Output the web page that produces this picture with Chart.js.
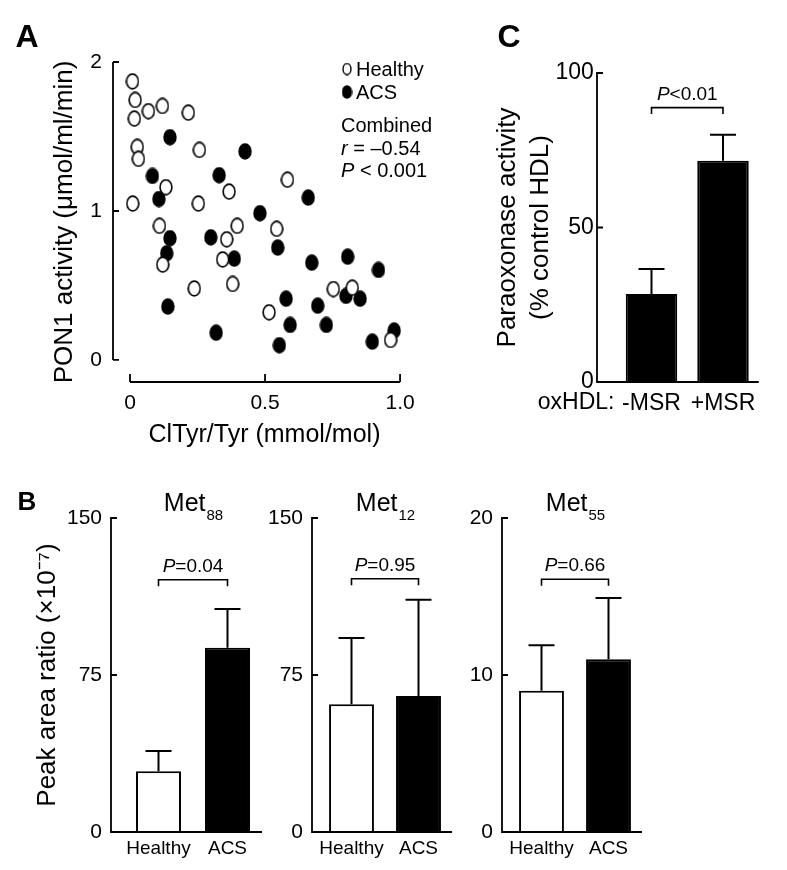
<!DOCTYPE html>
<html><head><meta charset="utf-8">
<script src="https://cdn.jsdelivr.net/npm/chart.js@4.4.1/dist/chart.umd.min.js"></script>
<style>
html,body{margin:0;padding:0;background:#fff;}
body{width:787px;height:870px;position:relative;overflow:hidden;}
canvas{position:absolute;}
</style></head><body>
<canvas id="cA" width="470" height="460" style="left:0;top:0"></canvas>
<canvas id="cC" width="317" height="430" style="left:470px;top:0"></canvas>
<canvas id="cB1" width="265" height="400" style="left:0;top:470px"></canvas>
<canvas id="cB2" width="200" height="400" style="left:262px;top:470px"></canvas>
<canvas id="cB3" width="200" height="400" style="left:462px;top:470px"></canvas>
<script>
// ---------------- DATA ----------------
// Panel A: PON1 activity vs ClTyr/Tyr
const healthyX = [0.009,0.019,0.068,0.12,0.216,0.016,0.027,0.031,0.257,0.133,0.367,0.583,0.01,0.253,0.109,0.397,0.543,0.358,0.343,0.121,0.238,0.38,0.515,0.753,0.823,0.965];
const healthyY = [1.87,1.745,1.67,1.705,1.66,1.62,1.43,1.35,1.41,1.16,1.13,1.21,1.05,1.05,0.90,0.90,0.88,0.81,0.675,0.64,0.48,0.51,0.32,0.476,0.485,0.134];
const acsX = [0.148,0.426,0.083,0.33,0.107,0.66,0.481,0.148,0.299,0.136,0.547,0.386,0.673,0.806,0.92,0.14,0.578,0.695,0.80,0.852,0.319,0.593,0.727,0.553,0.897,0.978];
const acsY = [1.495,1.40,1.235,1.24,1.08,1.09,0.985,0.817,0.823,0.716,0.754,0.68,0.653,0.693,0.604,0.358,0.411,0.364,0.43,0.411,0.183,0.235,0.235,0.099,0.123,0.197];
const scatterXTicks = [0, 0.5, 1.0];
const scatterXTickLabels = ['0', '0.5', '1.0'];
const scatterYTicks = [0, 1, 2];
const scatterYTickLabels = ['0', '1', '2'];

// Panel B: Met oxidation peak area ratios
const groups = ['Healthy', 'ACS'];
const met88Mean = [29, 88];
const met88Err = [9.7, 18.5];
const met12Mean = [61, 65];
const met12Err = [31.7, 46];
const met55Mean = [9.0, 11.0];
const met55Err = [2.9, 3.9];
const met88Ticks = [0, 75, 150];
const met12Ticks = [0, 75, 150];
const met55Ticks = [0, 10, 20];

// Panel C: paraoxonase activity
const oxCategories = ['-MSR', '+MSR'];
const oxMean = [28.5, 71.6];
const oxErr = [8.1, 8.4];
const oxTicks = [0, 50, 100];

// ---------------- HELPERS ----------------
const FONT = '"Liberation Sans", Arial, Helvetica, sans-serif';
Chart.defaults.font.family = FONT;
Chart.defaults.color = '#000';

function ellipseMarker(w, h, fill, lw) {
  const c = document.createElement('canvas');
  c.width = w; c.height = h;
  const g = c.getContext('2d');
  g.beginPath();
  g.ellipse(w / 2, h / 2, w / 2 - lw / 2 - 0.3, h / 2 - lw / 2 - 0.3, 0, 0, Math.PI * 2);
  g.fillStyle = fill; g.fill();
  g.lineWidth = lw; g.strokeStyle = '#000'; g.stroke();
  return c;
}
const openMark = ellipseMarker(14, 17, '#fff', 1.6);
const fillMark = ellipseMarker(14, 17, '#000', 1.6);
const openSmall = ellipseMarker(10, 13, '#fff', 1.4);
const fillSmall = ellipseMarker(11, 14, '#000', 1.4);

// draw text made of parts (some italic), aligned left/center/right at baseline y
function richText(ctx, parts, x, y, size, align) {
  const fonts = parts.map(p => (p.it ? 'italic ' : '') + size + 'px ' + FONT);
  let total = 0;
  const widths = parts.map((p, i) => { ctx.font = fonts[i]; const w = ctx.measureText(p.t).width; total += w; return w; });
  let cx = align === 'center' ? x - total / 2 : align === 'right' ? x - total : x;
  ctx.textAlign = 'left';
  parts.forEach((p, i) => { ctx.font = fonts[i]; ctx.fillText(p.t, cx, y); cx += widths[i]; });
}

function textPlugin(id, fn) { return { id, afterDraw(chart) { const ctx = chart.ctx; ctx.save(); ctx.fillStyle = '#000'; ctx.strokeStyle = '#000'; fn(chart, ctx); ctx.restore(); } }; }

function bracket(ctx, chart, val, pParts, size) {
  const { x, y } = chart.scales;
  const by = y.getPixelForValue(val);
  const x1 = x.getPixelForValue(0), x2 = x.getPixelForValue(1);
  ctx.lineWidth = 1.6;
  ctx.beginPath();
  ctx.moveTo(x1, by + 6.5); ctx.lineTo(x1, by); ctx.lineTo(x2, by); ctx.lineTo(x2, by + 6.5);
  ctx.stroke();
  ctx.textBaseline = 'alphabetic';
  richText(ctx, pParts, (x1 + x2) / 2, by - 8, size, 'center');
}

function errorBars(ctx, chart, means, errs) {
  const meta = chart.getDatasetMeta(0);
  const y = chart.scales.y;
  ctx.lineWidth = 2;
  meta.data.forEach((el, i) => {
    const top = y.getPixelForValue(means[i]);
    const et = y.getPixelForValue(means[i] + errs[i]);
    ctx.beginPath();
    ctx.moveTo(el.x, top); ctx.lineTo(el.x, et);
    ctx.moveTo(el.x - 13, et); ctx.lineTo(el.x + 13, et);
    ctx.stroke();
  });
}

function barAxes(ctx, chart, ticks, gap) {
  const { chartArea: ca, scales: { y } } = chart;
  const ax = ca.left - gap;
  const y0 = y.getPixelForValue(ticks[0]);
  const yt = y.getPixelForValue(ticks[ticks.length - 1]);
  ctx.lineWidth = 1.8;
  ctx.beginPath();
  ctx.moveTo(ax + 6, yt); ctx.lineTo(ax, yt); ctx.lineTo(ax, y0); ctx.lineTo(ca.right, y0);
  ticks.slice(1, -1).forEach(v => { const py = y.getPixelForValue(v); ctx.moveTo(ax, py); ctx.lineTo(ax + 6, py); });
  ctx.stroke();
}

const baseOpts = { responsive: false, maintainAspectRatio: false, animation: false, events: [] };
const noPlug = { legend: { display: false }, title: { display: false }, tooltip: { enabled: false } };

// ---------------- PANEL A ----------------
new Chart(document.getElementById('cA'), {
  type: 'scatter',
  data: {
    datasets: [
      { label: 'Healthy', data: healthyX.map((v, i) => ({ x: v, y: healthyY[i] })), pointStyle: openMark },
      { label: 'ACS', data: acsX.map((v, i) => ({ x: v, y: acsY[i] })), pointStyle: fillMark }
    ]
  },
  options: Object.assign({}, baseOpts, {
    layout: { padding: { top: 62, left: 0, right: 54, bottom: 0 } },
    plugins: noPlug,
    scales: {
      x: {
        type: 'linear', min: -0.063, max: 1.059,
        grid: { display: false, drawTicks: false }, border: { display: false },
        afterBuildTicks: s => { s.ticks = scatterXTicks.map(v => ({ value: v })); },
        ticks: { font: { size: 21 }, padding: 9, color: '#000', maxRotation: 0, autoSkip: false,
          callback: (v, i) => scatterXTickLabels[i] },
        title: { display: true, text: 'ClTyr/Tyr (mmol/mol)', font: { size: 25 }, color: '#000', padding: { top: 0, bottom: 10 } },
        afterFit: s => { s.height = 78; }
      },
      y: {
        type: 'linear', min: -0.148, max: 2,
        grid: { display: false, drawTicks: false }, border: { display: false },
        afterBuildTicks: s => { s.ticks = scatterYTicks.map(v => ({ value: v })); },
        ticks: { font: { size: 21 }, padding: 11, color: '#000', autoSkip: false,
          callback: (v, i) => scatterYTickLabels[i] },
        title: { display: true, text: 'PON1 activity (μmol/ml/min)', font: { size: 26 }, color: '#000', padding: { top: 49.4, bottom: 0 } },
        afterFit: s => { s.width = 113; }
      }
    }
  }),
  plugins: [textPlugin('axesA', (chart, ctx) => {
    const { chartArea: ca, scales: { x, y } } = chart;
    ctx.lineWidth = 1.8;
    const ax = ca.left;
    ctx.beginPath();
    const yT = y.getPixelForValue(scatterYTicks[scatterYTicks.length - 1]);
    const yB = y.getPixelForValue(scatterYTicks[0]);
    ctx.moveTo(ax, yT); ctx.lineTo(ax, yB);
    scatterYTicks.forEach(v => { const py = y.getPixelForValue(v); ctx.moveTo(ax, py); ctx.lineTo(ax + 6, py); });
    const xb = ca.bottom;
    ctx.moveTo(x.getPixelForValue(scatterXTicks[0]), xb); ctx.lineTo(x.getPixelForValue(scatterXTicks[scatterXTicks.length - 1]), xb);
    scatterXTicks.forEach(v => { const px = x.getPixelForValue(v); ctx.moveTo(px, xb); ctx.lineTo(px, xb - 8); });
    ctx.stroke();
    // panel letter
    ctx.font = 'bold 32px ' + FONT; ctx.textAlign = 'center'; ctx.textBaseline = 'alphabetic';
    ctx.fillText('A', 27, 47);
    // legend
    ctx.drawImage(openSmall, 347 - 5, 69 - 6.5);
    ctx.drawImage(fillSmall, 347 - 5.5, 92 - 7);
    ctx.textBaseline = 'middle'; ctx.textAlign = 'left';
    ctx.font = '20px ' + FONT;
    ctx.fillText('Healthy', 356, 70);
    ctx.fillText('ACS', 356, 93);
    ctx.fillText('Combined', 341, 126);
    richText(ctx, [{ t: 'r', it: true }, { t: ' = \u20130.54' }], 341, 149, 20, 'left');
    richText(ctx, [{ t: 'P', it: true }, { t: ' < 0.001' }], 341, 171, 20, 'left');
  })]
});

// ---------------- BAR FACTORY ----------------
function makeBar(id, cfg) {
  return new Chart(document.getElementById(id), {
    type: 'bar',
    data: { labels: cfg.labels, datasets: [{ data: cfg.mean, backgroundColor: cfg.fills, borderColor: '#000', borderWidth: 2, borderSkipped: 'bottom', barPercentage: cfg.barPct, categoryPercentage: 1 }] },
    options: Object.assign({}, baseOpts, {
      layout: { padding: cfg.pad },
      plugins: noPlug,
      scales: {
        x: { grid: { display: false, drawTicks: false }, border: { display: false },
          ticks: { font: { size: cfg.xFont }, padding: cfg.xPad, color: '#000', maxRotation: 0, autoSkip: false },
          afterFit: s => { s.height = cfg.xH; } },
        y: { min: cfg.ticks[0], max: cfg.ticks[cfg.ticks.length - 1],
          grid: { display: false, drawTicks: false }, border: { display: false },
          afterBuildTicks: s => { s.ticks = cfg.ticks.map(v => ({ value: v })); },
          ticks: { font: { size: cfg.yFont }, padding: cfg.yPad, color: '#000', autoSkip: false },
          title: cfg.yTitle || { display: false },
          afterFit: s => { s.width = cfg.yW; } }
      }
    }),
    plugins: [textPlugin('ann' + id, (chart, ctx) => {
      barAxes(ctx, chart, cfg.ticks, cfg.gap);
      errorBars(ctx, chart, cfg.mean, cfg.err);
      bracket(ctx, chart, cfg.bracketVal, cfg.pText, 19);
      if (cfg.extra) cfg.extra(chart, ctx);
    })]
  });
}

function metTitle(sub) {
  return (chart, ctx) => {
    const ca = chart.chartArea;
    ctx.textBaseline = 'alphabetic'; ctx.textAlign = 'left';
    ctx.font = '25px ' + FONT; const w1 = ctx.measureText('Met').width;
    ctx.font = '15px ' + FONT; const w2 = ctx.measureText(sub).width;
    const cx = (ca.left + ca.right) / 2 - (w1 + w2) / 2;
    ctx.font = '25px ' + FONT; ctx.fillText('Met', cx, ca.top - 7);
    ctx.font = '15px ' + FONT; ctx.fillText(sub, cx + w1 + 1, ca.top + 2);
  };
}

// ---------------- PANEL B ----------------
makeBar('cB1', {
  labels: groups, mean: met88Mean, err: met88Err, ticks: met88Ticks, fills: ['#fff', '#000'], barPct: 0.652,
  pad: { top: 48, left: 0, right: 3, bottom: 0 }, xH: 38, xFont: 19, xPad: 5, yFont: 21, yPad: 22, yW: 124, gap: 13,
  yTitle: { display: true, text: 'Peak area ratio (\u00d710\u207b\u2077)', font: { size: 26 }, color: '#000', padding: { top: 32.4, bottom: 0 } },
  bracketVal: 120.5, pText: [{ t: 'P', it: true }, { t: '=0.04' }],
  extra: (chart, ctx) => {
    metTitle('88')(chart, ctx);
    ctx.font = 'bold 26px ' + FONT; ctx.textAlign = 'center'; ctx.textBaseline = 'alphabetic';
    ctx.fillText('B', 27, 40);
  }
});
makeBar('cB2', {
  labels: groups, mean: met12Mean, err: met12Err, ticks: met12Ticks, fills: ['#fff', '#000'], barPct: 0.67,
  pad: { top: 48, left: 0, right: 10, bottom: 0 }, xH: 38, xFont: 19, xPad: 5, yFont: 21, yPad: 15, yW: 56, gap: 6,
  bracketVal: 121, pText: [{ t: 'P', it: true }, { t: '=0.95' }],
  extra: metTitle('12')
});
makeBar('cB3', {
  labels: groups, mean: met55Mean, err: met55Err, ticks: met55Ticks, fills: ['#fff', '#000'], barPct: 0.67,
  pad: { top: 48, left: 0, right: 20, bottom: 0 }, xH: 38, xFont: 19, xPad: 5, yFont: 21, yPad: 15, yW: 46, gap: 6,
  bracketVal: 16.1, pText: [{ t: 'P', it: true }, { t: '=0.66' }],
  extra: metTitle('55')
});

// ---------------- PANEL C ----------------
makeBar('cC', {
  labels: oxCategories, mean: oxMean, err: oxErr, ticks: oxTicks, fills: ['#000', '#000'], barPct: 0.72,
  pad: { top: 73, left: 0, right: 28.25, bottom: 0 }, xH: 48, xFont: 23, xPad: 8, yFont: 23, yPad: 22, yW: 145.75, gap: 18.75,
  yTitle: { display: true, text: ['Paraoxonase activity', '(% control HDL)'], font: { size: 26, lineHeight: 1.27 }, color: '#000', padding: { top: 21.5, bottom: 0 } },
  bracketVal: 88.8, pText: [{ t: 'P', it: true }, { t: '<0.01' }],
  extra: (chart, ctx) => {
    const x = chart.scales.x;
    ctx.font = '23px ' + FONT; ctx.textAlign = 'right'; ctx.textBaseline = 'middle';
    ctx.fillText('oxHDL:', x.getPixelForValue(0) - 37, chart.chartArea.bottom + 21);
    ctx.font = 'bold 32px ' + FONT; ctx.textAlign = 'center'; ctx.textBaseline = 'alphabetic';
    ctx.fillText('C', 39, 47);
  }
});
</script>
</body></html>
